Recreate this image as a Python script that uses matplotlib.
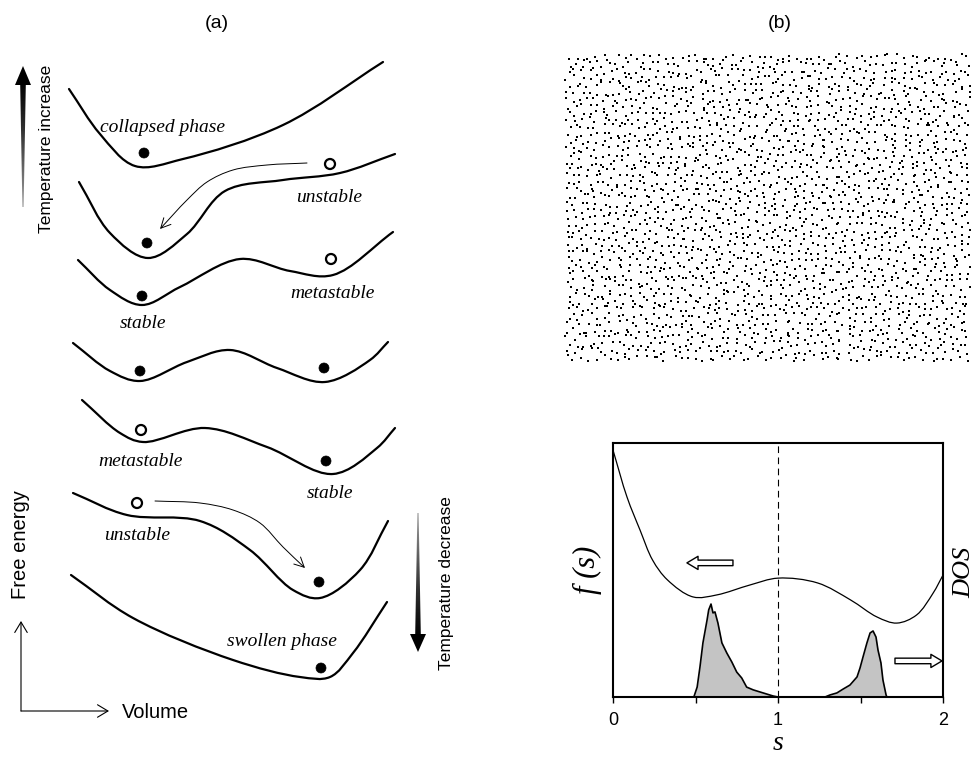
import numpy as np
import matplotlib
matplotlib.use("Agg")
import matplotlib.pyplot as plt
from matplotlib.path import Path
from matplotlib.patches import PathPatch, FancyArrowPatch, Polygon, Circle

SANS = "Liberation Sans"
SERIF = "Liberation Serif"

# ---- panel (a): free-energy sketches, pixel coords (x, y down) ----
curve_collapsed = [(69, 89), (100, 134), (135, 166), (183, 159), (283, 125), (383, 62)]
curve_unstable_top = [(79, 182), (110, 233), (148, 258), (187, 234), (225, 191), (283, 180),
                      (340, 173), (395, 154)]
curve_meta_top = [(78, 260), (110, 290), (142, 305), (180, 287), (240, 259), (290, 271),
                  (333, 275), (393, 232)]
curve_coexist = [(73, 343), (110, 371), (140, 381), (187, 362), (230, 350), (277, 368),
                 (325, 382), (370, 360), (388, 342)]
curve_meta_bot = [(82, 400), (120, 433), (143, 442), (205, 428), (267, 447), (333, 474),
                  (377, 448), (395, 428)]
curve_unstable_bot = [(73, 493), (127, 515), (200, 521), (250, 550), (293, 590), (320, 598),
                      (360, 570), (388, 521)]
curve_swollen = [(71, 575), (133, 618), (233, 660), (300, 677), (330, 677), (353, 653),
                 (387, 602)]

filled_balls = [(144, 153), (147, 243), (142, 296), (140, 371), (324, 368), (326, 461),
                (319, 582), (321, 668)]
open_balls = [(330, 164), (331, 259), (141, 430), (137, 503)]

state_labels = ["collapsed phase", "unstable", "metastable", "stable",
                "metastable", "stable", "unstable", "swollen phase"]
state_label_xy = [(162, 127), (329, 197), (332, 293), (143, 324),
                  (140, 462), (330, 493), (137, 535), (282, 641)]

path_arrow_top = [(307, 163), (267, 165), (233, 170), (207, 182), (187, 200), (160, 229)]
path_arrow_bot = [(155, 501), (200, 503), (233, 510), (260, 523), (283, 547), (305, 568)]

# ---- panel (b) bottom: f(s) and DOS ----
fs_s = [0, 0.085, 0.164, 0.24, 0.33, 0.485, 0.63, 0.83, 1.0, 1.24, 1.44, 1.6, 1.72,
        1.84, 1.94, 2.0]
fs_val = [0.972, 0.787, 0.657, 0.539, 0.461, 0.394, 0.402, 0.441, 0.468, 0.449, 0.382,
          0.315, 0.291, 0.323, 0.409, 0.48]

dos_s_left = [0.49, 0.51, 0.527, 0.545, 0.57, 0.58, 0.594, 0.606, 0.618, 0.636, 0.66,
              0.69, 0.72, 0.75, 0.78, 0.81, 0.85, 0.89, 0.93, 0.97, 1.0]
dos_left = [0, 0.039, 0.118, 0.213, 0.303, 0.343, 0.366, 0.331, 0.335, 0.291, 0.213,
            0.173, 0.138, 0.098, 0.075, 0.039, 0.028, 0.02, 0.012, 0.004, 0]
dos_s_right = [1.285, 1.315, 1.357, 1.394, 1.436, 1.479, 1.497, 1.515, 1.539, 1.558,
               1.576, 1.594, 1.606, 1.624, 1.636, 1.655, 1.66]
dos_right = [0, 0.008, 0.016, 0.031, 0.047, 0.079, 0.114, 0.157, 0.213, 0.252, 0.26,
             0.236, 0.185, 0.134, 0.067, 0.008, 0]

s_ticks = [0, 0.5, 1, 1.5, 2]
s_ticklabels = ["0", "", "1", "", "2"]


def smooth_path(pts, scale=(1.0, 1.0), alpha=0.5):
    """Centripetal Catmull-Rom through the knots, as a cubic bezier Path"""
    p = np.asarray(pts, float)
    ext = np.vstack([2 * p[0] - p[1], p, 2 * p[-1] - p[-2]])
    sc = np.asarray(scale, float)
    verts = [p[0]]
    codes = [Path.MOVETO]
    for i in range(1, len(ext) - 2):
        p0, p1, p2, p3 = ext[i - 1], ext[i], ext[i + 1], ext[i + 2]
        d0 = np.linalg.norm((p1 - p0) * sc) ** alpha
        d1 = np.linalg.norm((p2 - p1) * sc) ** alpha
        d2 = np.linalg.norm((p3 - p2) * sc) ** alpha
        m1 = (p1 - p0) / d0 - (p2 - p0) / (d0 + d1) + (p2 - p1) / d1
        m2 = (p2 - p1) / d1 - (p3 - p1) / (d1 + d2) + (p3 - p2) / d2
        verts += [p1 + m1 * d1 / 3, p2 - m2 * d1 / 3, p2]
        codes += [Path.CURVE4] * 3
    return Path(verts, codes)


def grad_arrow(ax, x, y_tail, y_base, y_tip):
    # tapered shaft filled with a light->black gradient, solid black head
    shaft = Polygon([(x - 0.6, y_tail), (x + 0.6, y_tail), (x + 2.8, y_base),
                     (x - 2.8, y_base)], closed=True, fc="none", ec="none",
                    transform=ax.transData)
    ax.add_patch(shaft)
    grad = np.linspace(0.05, 0.7, 100).reshape(-1, 1) ** 1.3
    im = ax.imshow(grad, cmap="gray", vmin=0, vmax=1, aspect="auto",
                   extent=(x - 3, x + 3, y_tail, y_base), interpolation="bilinear")
    im.set_clip_path(shaft)
    ax.add_patch(Polygon([(x - 8, y_base), (x + 8, y_base), (x, y_tip)],
                         closed=True, color="black", lw=0))


fig = plt.figure(figsize=(9.74, 7.58), dpi=100)
ax = fig.add_axes([0, 0, 1, 1])
ax.axis("off")

ax.text(217, 23, "(a)", family=SANS, fontsize=14, ha="center", va="center")
ax.text(780, 23, "(b)", family=SANS, fontsize=14, ha="center", va="center")

for c in [curve_collapsed, curve_unstable_top, curve_meta_top, curve_coexist,
          curve_meta_bot, curve_unstable_bot, curve_swollen]:
    ax.add_patch(PathPatch(smooth_path(c), fill=False, lw=1.6, ec="black",
                           capstyle="round"))

for (x, y) in filled_balls:
    ax.add_patch(Circle((x, y), 5, fc="black", ec="black", lw=0.5))
for (x, y) in open_balls:
    ax.add_patch(Circle((x, y), 5, fc="white", ec="black", lw=1.6))

for lab, (x, y) in zip(state_labels, state_label_xy):
    ax.text(x, y, lab, family=SERIF, style="italic", fontsize=14,
            ha="center", va="center")

for p in [path_arrow_top, path_arrow_bot]:
    ax.add_patch(FancyArrowPatch(path=smooth_path(p),
                                 arrowstyle="->,head_length=0.7,head_width=0.35",
                                 mutation_scale=10, lw=0.7, color="black"))

# temperature arrows
grad_arrow(ax, 23, 207, 85, 66)
ax.text(47, 149, "Temperature increase", family=SANS, fontsize=12.5, rotation=90,
        ha="center", va="center")
grad_arrow(ax, 418, 513, 634, 652)
ax.text(447, 583, "Temperature decrease", family=SANS, fontsize=12.5, rotation=90,
        ha="center", va="center")

# free energy / volume axes
ax.add_patch(FancyArrowPatch((21, 711), (21, 621),
                             arrowstyle="->,head_length=0.75,head_width=0.45",
                             mutation_scale=10, lw=0.8, color="black", shrinkA=0, shrinkB=0))
ax.add_patch(FancyArrowPatch((21, 711), (109, 711),
                             arrowstyle="->,head_length=0.75,head_width=0.45",
                             mutation_scale=10, lw=0.8, color="black", shrinkA=0, shrinkB=0))
ax.text(21, 545, "Free energy", family=SANS, fontsize=14.5, rotation=90,
        ha="center", va="center")
ax.text(122, 712, "Volume", family=SANS, fontsize=14.5, ha="left", va="center")

# ---- panel (b) top: particle configuration (texture, jittered lattice) ----
rng = np.random.default_rng(7)
gx, gy = np.meshgrid(np.arange(568, 968, 7.0), np.arange(57, 360, 7.0))
px = gx.ravel() + rng.uniform(-3.2, 3.2, gx.size)
py = gy.ravel() + rng.uniform(-3.2, 3.2, gy.size)
ax.scatter(px, py, s=3.4, c="black", marker="s", linewidths=0)

ax.set_xlim(0, 974)
ax.set_ylim(758, 0)

# ---- panel (b) bottom ----
ax2 = fig.add_axes([613 / 974, (758 - 697) / 758, 330 / 974, 254 / 758])
ax2.set_xlim(0, 2)
ax2.set_ylim(0, 1)
ax2.add_patch(PathPatch(smooth_path(list(zip(fs_s, fs_val)), scale=(165, 254)),
                        fill=False, lw=0.9, ec="black", transform=ax2.transData))
for s_vals, d_vals in [(dos_s_left, dos_left), (dos_s_right, dos_right)]:
    ax2.fill_between(s_vals, d_vals, 0, color="#c4c4c4", lw=0)
    ax2.plot(s_vals, d_vals, color="black", lw=1.2)
ax2.axvline(1, color="black", lw=0.8, ls=(0, (6, 4)))

ax2.annotate("", xy=(0.448, 0.528), xytext=(0.727, 0.528),
             arrowprops=dict(arrowstyle="simple,head_length=0.8,head_width=0.95,tail_width=0.4",
                             fc="white", ec="black", lw=1.0, shrinkA=0, shrinkB=0,
                             mutation_scale=10))
ax2.annotate("", xy=(1.994, 0.142), xytext=(1.709, 0.142),
             arrowprops=dict(arrowstyle="simple,head_length=0.8,head_width=0.95,tail_width=0.4",
                             fc="white", ec="black", lw=1.0, shrinkA=0, shrinkB=0,
                             mutation_scale=10))

for sp in ax2.spines.values():
    sp.set_linewidth(1.5)
ax2.set_xticks(s_ticks)
ax2.set_xticklabels(s_ticklabels, family=SANS, fontsize=13)
ax2.tick_params(axis="x", direction="out", length=4, width=1, pad=7)
ax2.set_yticks([])

ax.text(778, 744, "s", family=SERIF, style="italic", fontsize=20, ha="center", va="center")
ax.text(587, 570, "f (s)", family=SERIF, style="italic", fontsize=22, rotation=90,
        ha="center", va="center")
ax.text(964, 572, "DOS", family=SERIF, style="italic", fontsize=19, rotation=90,
        ha="center", va="center")

fig.savefig("out.png", dpi=100)
